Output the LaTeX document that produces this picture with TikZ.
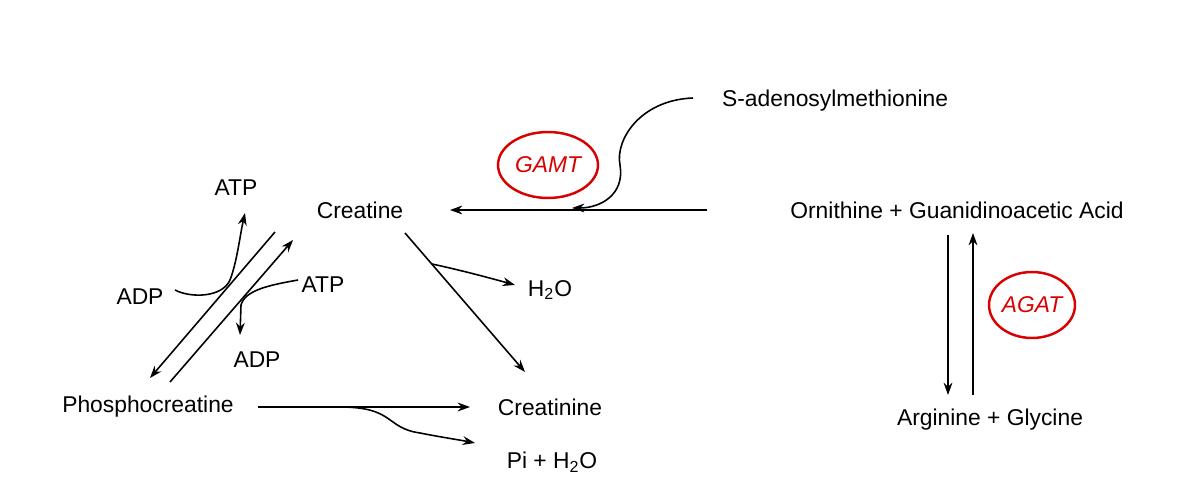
\documentclass[tikz,border=0pt]{standalone}
\usepackage{fontspec}
\setmainfont{Liberation Sans}
\usetikzlibrary{arrows.meta,shapes.geometric}
\begin{document}
\begin{tikzpicture}[x=0.02cm,y=-0.02cm,
  lbl/.style={font=\fontsize{13}{15}\selectfont,inner sep=1pt},
  enz/.style={draw=red!85!black,line width=1.4pt,ellipse,inner sep=0pt,font=\fontsize{13}{15}\selectfont\itshape,text=red!85!black},
  arr/.style={-{Stealth[length=7pt,width=5pt]},line width=0.9pt}]
\useasboundingbox (0,0) rectangle (1200,493);
\node[lbl,anchor=west] (sam) at (720,101) {S-adenosylmethionine};
\node[lbl] (cre) at (360,210) {Creatine};
\node[lbl] (orn) at (957,210) {Ornithine + Guanidinoacetic Acid};
\node[lbl] (arg) at (990,420) {Arginine + Glycine};
\node[lbl] (h2o) at (550,290) {H\textsubscript{2}O};
\node[lbl] (crn) at (550,407) {Creatinine};
\node[lbl] (pc) at (148,407) {Phosphocreatine};
\node[lbl] (pi) at (552,462) {Pi + H\textsubscript{2}O};
\node[lbl] (atp1) at (236,188) {ATP};
\node[lbl] (adp1) at (140,297) {ADP};
\node[lbl] (atp2) at (323,285) {ATP};
\node[lbl] (adp2) at (257,360) {ADP};
\node[enz,minimum width=2cm,minimum height=1.32cm] (gamt) at (548,165) {GAMT};
\node[enz,minimum width=1.72cm,minimum height=1.32cm] (agat) at (1032,305) {AGAT};
\coordinate (m1) at (707,210); \coordinate (m2) at (450,210);
\coordinate (samS) at (693,98); \coordinate (samE) at (572,208);
\draw[arr] (m1) -- (m2);
\draw[arr] (samS) .. controls (640,100) and (615,140) .. (620,165) .. controls (625,195) and (600,208) .. (samE);
\coordinate (a1) at (948,235); \coordinate (a2) at (948,395);
\coordinate (b1) at (973,395); \coordinate (b2) at (973,233);
\draw[arr] (a1) -- (a2); \draw[arr] (b1) -- (b2);
\coordinate (c1) at (405,233); \coordinate (c2) at (525,372); \coordinate (cb) at (432,264);
\draw[arr] (c1) -- (c2);
\draw[arr] (cb) .. controls (460,270) and (490,278) .. (515,285);
\coordinate (p1) at (258,407); \coordinate (p2) at (470,407); \coordinate (pb) at (340,407);
\draw[arr] (p1) -- (p2);
\draw[arr] (pb) .. controls (395,407) and (385,428) .. (420,433) .. controls (440,437) and (460,440) .. (475,443);
\coordinate (d1) at (275,232); \coordinate (d2) at (150,378);
\coordinate (e1) at (170,382); \coordinate (e2) at (293,240);
\draw[arr] (d1) -- (d2); \draw[arr] (e1) -- (e2);
\coordinate (q1) at (175,290); \coordinate (q2) at (245,213);
\draw[arr] (q1) .. controls (190,298) and (222,298) .. (230,280) .. controls (237,262) and (240,235) .. (q2);
\coordinate (r1) at (298,280); \coordinate (r2) at (240,335);
\draw[arr] (r1) .. controls (270,285) and (245,290) .. (241,305) -- (r2);
\end{tikzpicture}
\end{document}
